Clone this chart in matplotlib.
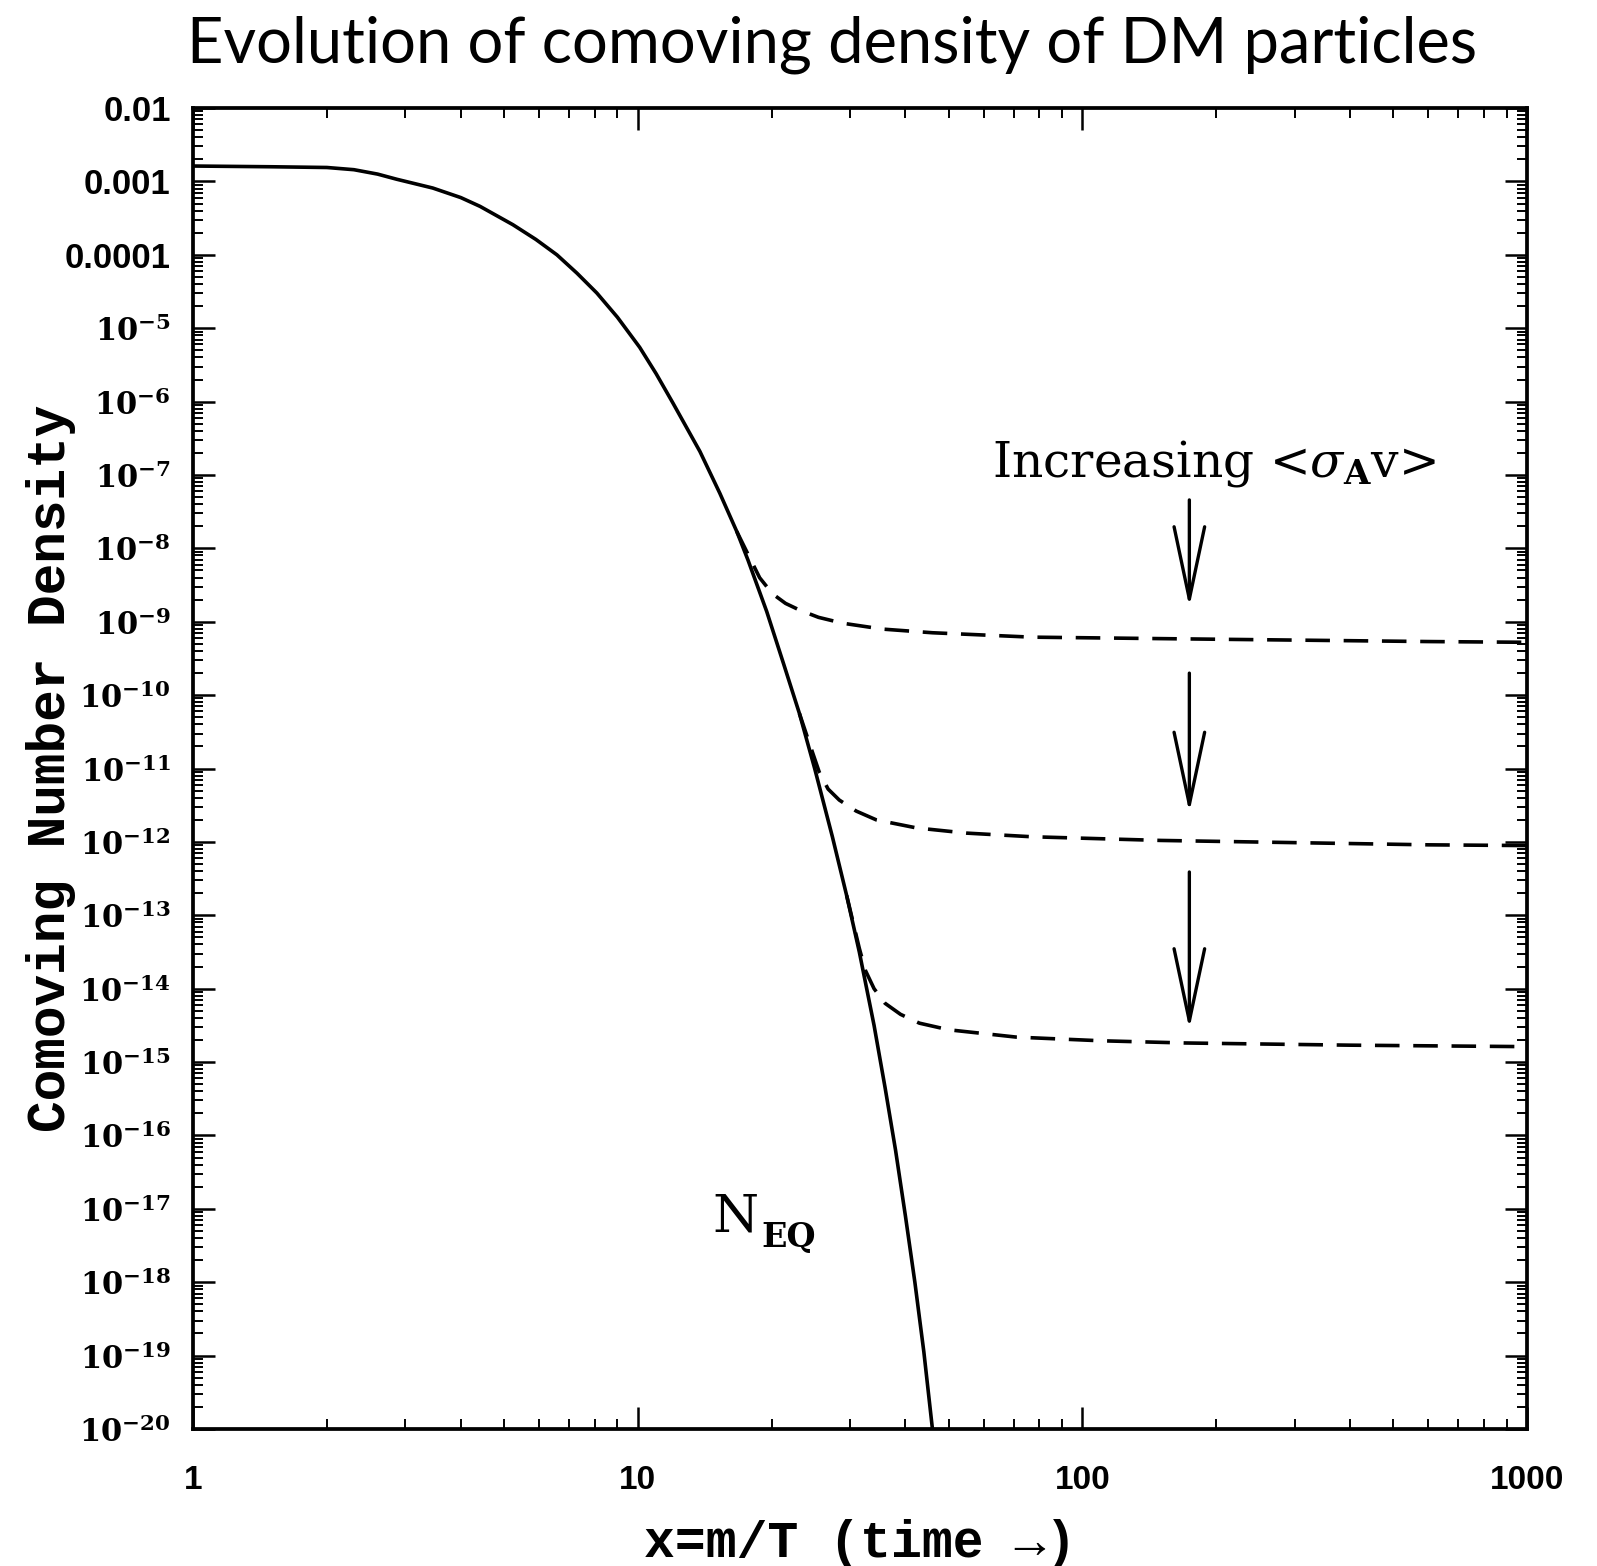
import numpy as np
import matplotlib
matplotlib.use('Agg')
import matplotlib.pyplot as plt
from matplotlib.ticker import LogLocator, NullFormatter

plt.rcParams['mathtext.fontset'] = 'dejavuserif'

# ---------------- data ----------------
# equilibrium curve N_EQ : x and log10(N)
x_eq = [1.0, 1.5, 2.0, 2.3, 2.6, 2.87, 3.46, 4.0, 4.42, 5.24, 5.9, 6.58, 7.3, 8.09, 9.0,
        10.1, 11.0, 12.0, 13.8, 15.3, 16.7, 17.7, 19.5, 21.3, 23.1, 25.0, 27.4,
        29.5, 31.5, 34.0, 36.0, 38.0, 40.0, 42.0, 44.0, 46.0]
y_eq_log10 = [-2.79, -2.80, -2.81, -2.84, -2.90, -2.97, -3.09, -3.22, -3.34, -3.59, -3.79,
              -4.00, -4.25, -4.52, -4.85, -5.26, -5.62, -6.02, -6.68, -7.25, -7.77, -8.16,
              -8.86, -9.58, -10.25, -11.00, -11.93, -12.73, -13.50, -14.50, -15.35,
              -16.20, -17.10, -18.00, -18.95, -20.00]

# freeze-out curves (dashed), three cross sections
x_fo1 = [16.7, 17.9, 18.8, 20.1, 21.5, 23.1, 25.5, 28.9, 35.5, 46.0, 77.0, 150, 300, 600, 1000]
y_fo1_log10 = [-7.77, -8.14, -8.40, -8.62, -8.75, -8.84, -8.94, -9.02, -9.10, -9.15, -9.21,
               -9.23, -9.25, -9.27, -9.28]

x_fo2 = [23.1, 24.4, 25.6, 26.8, 28.4, 31.0, 34.4, 42.4, 54.8, 77.0, 150, 300, 600, 1000]
y_fo2_log10 = [-10.25, -10.68, -11.05, -11.28, -11.43, -11.58, -11.70, -11.81, -11.88,
               -11.93, -11.98, -12.01, -12.04, -12.05]

x_fo3 = [29.5, 31.5, 32.5, 34.0, 36.0, 39.0, 43.0, 50.0, 71.0, 110, 170, 400, 1000]
y_fo3_log10 = [-12.73, -13.45, -13.75, -14.00, -14.20, -14.35, -14.47, -14.56, -14.66,
               -14.71, -14.74, -14.77, -14.79]

# annotation arrows ("Increasing <sigma_A v>")
arrow_x = [174, 174, 174]
arrow_tail_log10 = [-7.34, -9.70, -12.41]
arrow_tip_log10 = [-8.80, -11.60, -14.55]

# ticks
x_ticks = [1, 10, 100, 1000]
x_tick_labels = ['1', '10', '100', '1000']
y_tick_exponents = list(range(-20, -1))
y_tick_labels = [('0.01' if e == -2 else '0.001' if e == -3 else '0.0001' if e == -4
                  else r'$\mathbf{10^{%d}}$' % e) for e in y_tick_exponents]

# ---------------- figure ----------------
fig = plt.figure(figsize=(15.97, 15.66), dpi=100)
ax = fig.add_axes([0.1209, 0.0875, 0.8353, 0.8435])

ax.plot(x_eq, np.power(10.0, y_eq_log10), color='black', lw=2.6, zorder=3)
for xs, ys in [(x_fo1, y_fo1_log10), (x_fo2, y_fo2_log10), (x_fo3, y_fo3_log10)]:
    ax.plot(xs, np.power(10.0, ys), color='black', lw=2.6, dashes=(6.8, 3.8), zorder=3)

ax.set_xscale('log')
ax.set_yscale('log')
ax.set_xlim(1, 1000)
ax.set_ylim(1e-20, 1e-2)

ax.set_xticks(x_ticks)
ax.set_xticklabels(x_tick_labels, fontfamily='Liberation Sans', fontsize=24, fontweight='bold')
ax.xaxis.set_minor_locator(LogLocator(base=10, subs=np.arange(2, 10), numticks=50))
ax.xaxis.set_minor_formatter(NullFormatter())

ax.set_yticks([10.0 ** e for e in y_tick_exponents])
ax.set_yticklabels(y_tick_labels)
ax.yaxis.set_minor_locator(LogLocator(base=10, subs=np.arange(2, 10), numticks=100))
ax.yaxis.set_minor_formatter(NullFormatter())
for lbl in ax.get_yticklabels():
    if lbl.get_text().startswith('0'):
        lbl.set_fontfamily('Liberation Sans')
        lbl.set_fontsize(25)
        lbl.set_fontweight('bold')
    else:
        lbl.set_fontsize(22)

ax.tick_params(which='both', direction='in', top=True, right=True, colors='black')
ax.tick_params(which='major', length=16, width=1.8)
ax.tick_params(which='minor', length=7, width=1.4)
ax.tick_params(axis='x', which='major', pad=26)
ax.tick_params(axis='y', which='major', pad=16)
for s in ax.spines.values():
    s.set_linewidth(2.7)

ax.set_xlabel('x=m/T (time \u2192)', fontsize=37, fontfamily=['Liberation Mono', 'DejaVu Sans'],
              fontweight='bold')
ax.xaxis.set_label_coords(0.5, -0.0685)
ax.set_ylabel('Comoving Number Density', fontsize=38, fontfamily='Liberation Mono',
              fontweight='bold')
ax.yaxis.set_label_coords(-0.0877, 0.5)

for xa, t0, t1 in zip(arrow_x, arrow_tail_log10, arrow_tip_log10):
    ax.annotate('', xy=(xa, 10.0 ** t1), xytext=(xa, 10.0 ** t0),
                arrowprops=dict(arrowstyle='->,head_length=2.6,head_width=0.55',
                                lw=2.4, color='black', mutation_scale=20,
                                shrinkA=0, shrinkB=0))

ax.text(198, 10.0 ** -6.84, r'Increasing <$\sigma_{\mathbf{A}}$v>', ha='center', va='center',
        fontsize=35, fontfamily='DejaVu Serif')
ax.text(14.7, 10.0 ** -17.31, 'N', ha='left', va='baseline',
        fontsize=38, fontfamily='DejaVu Serif')
ax.text(19.0, 10.0 ** -17.52, 'EQ', ha='left', va='baseline',
        fontsize=24, fontfamily='DejaVu Serif', fontweight='bold')

fig.text(0.521, 1 - 63 / 1566, 'Evolution of comoving density of DM particles',
         ha='center', va='baseline', fontsize=45.5, fontfamily='Lato')

fig.savefig('out.png', dpi=100, facecolor='white')
